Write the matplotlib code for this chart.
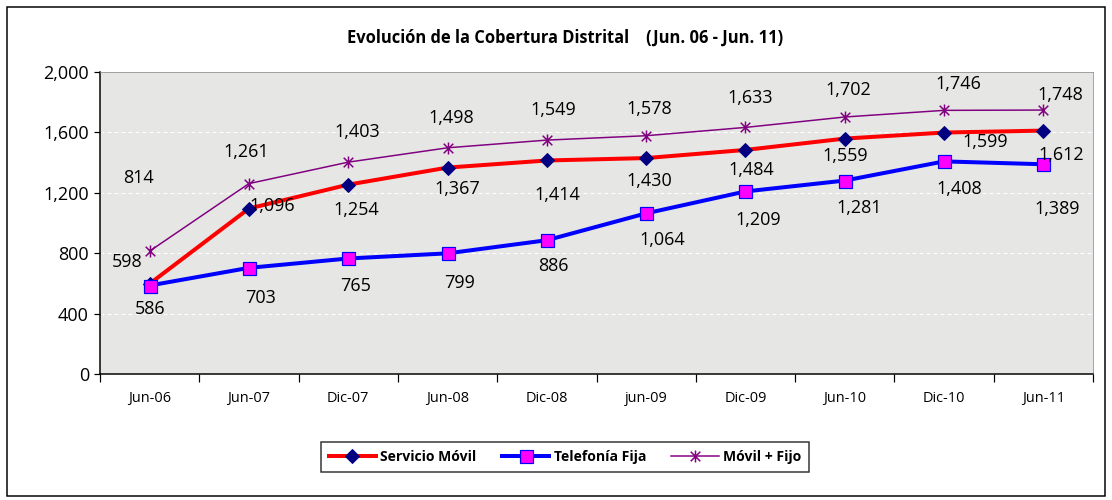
import matplotlib
matplotlib.use("Agg")
import matplotlib.pyplot as plt
from matplotlib.path import Path
from matplotlib.patches import Rectangle

plt.rcParams["font.family"] = ["Open Sans", "DejaVu Sans"]

periods = ["Jun-06", "Jun-07", "Dic-07", "Jun-08", "Dic-08",
           "jun-09", "Dic-09", "Jun-10", "Dic-10", "Jun-11"]
movil = [598, 1096, 1254, 1367, 1414, 1430, 1484, 1559, 1599, 1612]
fija = [586, 703, 765, 799, 886, 1064, 1209, 1281, 1408, 1389]
movil_fijo = [814, 1261, 1403, 1498, 1549, 1578, 1633, 1702, 1746, 1748]

# label offsets (points) per series, as placed in the original
off_movil = [(-23, 22), (23, 3), (8, -25), (10, -21), (10, -35),
             (3, -23), (6, -20), (0, -17), (41, -9), (18, -24)]
off_fija = [(0, -23), (12, -30), (7, -28), (12, -30), (7, -26),
            (16, -27), (13, -29), (14, -27), (15, -28), (14, -45)]
off_mf = [(-11, 73), (-3, 32), (9, 30), (4, 30), (6, 30),
          (3, 27), (5, 29), (4, 27), (14, 26), (17, 15)]

star = Path([(-1, -1), (1, 1), (-1, 1), (1, -1), (0, -1.25), (0, 1.25)],
            [Path.MOVETO, Path.LINETO, Path.MOVETO, Path.LINETO, Path.MOVETO, Path.LINETO])

fig = plt.figure(figsize=(1112 / 72, 500 / 72), dpi=72)
ax = fig.add_axes([100 / 1112, 126 / 500, 993 / 1112, 302 / 500])
ax.set_facecolor("#e6e6e4")
x = list(range(len(periods)))

ax.plot(x, movil_fijo, color="#800080", lw=1.5, marker=star, ms=12, mew=1.5,
        label="Móvil + Fijo", zorder=3)
ax.plot(x, movil, color="#ff0000", lw=4, marker="D", ms=10, mfc="#000080",
        mec="#000080", label="Servicio Móvil", zorder=4)
ax.plot(x, fija, color="#0000ff", lw=4, marker="s", ms=13, mfc="#ff00ff",
        mec="#0000ff", mew=1.2, label="Telefonía Fija", zorder=5)

for vals, offs in [(movil, off_movil), (fija, off_fija), (movil_fijo, off_mf)]:
    for i, v in enumerate(vals):
        ax.annotate(f"{v:,}", (i, v), xytext=offs[i], textcoords="offset points",
                    ha="center", va="center", fontsize=18, color="black", zorder=6)

ax.set_xlim(-0.5, len(periods) - 0.5)
ax.set_ylim(0, 2000)
ax.set_yticks(range(0, 2001, 400))
ax.set_yticklabels([f"{v:,}" for v in range(0, 2001, 400)], fontsize=18)
ax.set_xticks(x)
ax.set_xticklabels(periods, fontsize=14.5)
ax.set_xticks([i - 0.5 for i in range(len(periods) + 1)], minor=True)
ax.tick_params(axis="x", which="major", length=0, pad=17)
ax.tick_params(axis="x", which="minor", length=8, width=1.2, direction="out")
ax.tick_params(axis="y", length=6, width=1.2, pad=5)

for yv in range(400, 2000, 400):
    ax.axhline(yv, color="white", lw=1, ls=(0, (4, 3)), zorder=1)

ax.spines["left"].set_linewidth(1.5)
ax.spines["bottom"].set_linewidth(1.5)
ax.spines["top"].set_color("#909090")
ax.spines["right"].set_color("#909090")

fig.text(0.508, 0.924, "Evolución de la Cobertura Distrital    (Jun. 06 - Jun. 11)",
         ha="center", va="center", fontsize=16.5, fontweight="bold")

handles, labels = ax.get_legend_handles_labels()
order = [1, 2, 0]
leg = fig.legend([handles[i] for i in order], [labels[i] for i in order],
                 loc="center", bbox_to_anchor=(0.508, 0.086), ncol=3, frameon=True,
                 fancybox=False, edgecolor="black", handlelength=3.4,
                 prop={"weight": "bold", "size": 14}, columnspacing=1.8,
                 handletextpad=0.3, borderpad=0.55, borderaxespad=0)
leg.get_frame().set_linewidth(1.5)

fig.patches.append(Rectangle((7 / 1112, 4 / 500), 1098 / 1112, 489 / 500,
                             transform=fig.transFigure, fill=False,
                             edgecolor="black", lw=1.5))

fig.savefig("out.png", dpi=72)
